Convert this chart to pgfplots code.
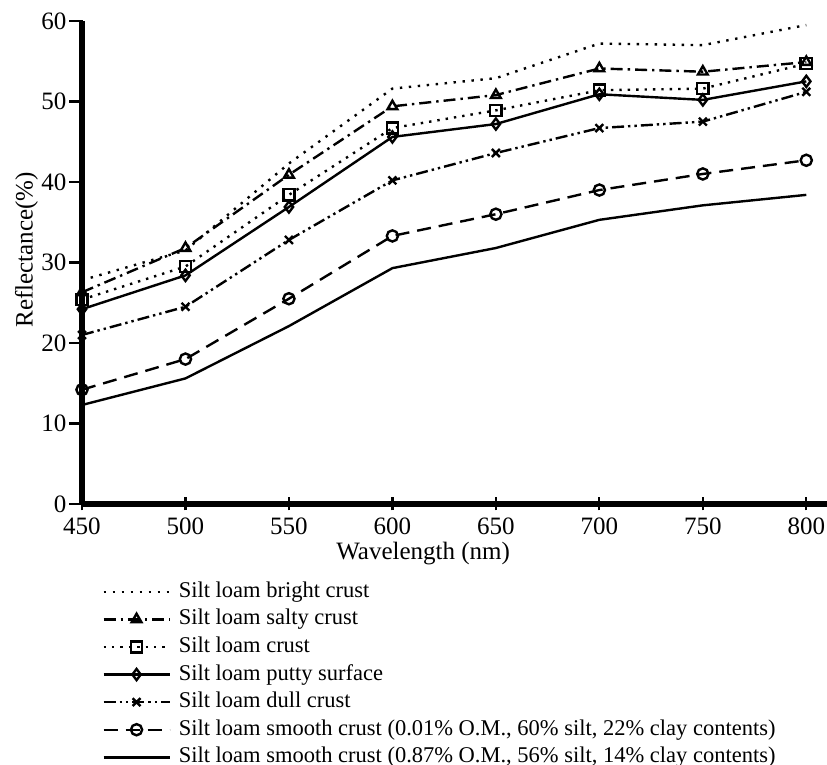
\documentclass[border=0pt]{standalone}
\usepackage{fontspec}
\setmainfont{Liberation Serif}
\usepackage{pgfplots}
\pgfplotsset{compat=1.18}
\begin{document}
\begin{tikzpicture}
\begin{axis}[
  scale only axis,
  width=372.5pt, height=241.5pt,
  xmin=450, xmax=810, ymin=0, ymax=60,
  xtick={450,500,...,800}, ytick={0,10,...,60},
  axis lines=left,
  axis line style={line width=2.6pt,-},
  tick align=center,
  major tick length=6.5pt,
  tick style={line width=1.1pt,black},
  ytick style={xshift=-3pt},
  /pgf/number format/assume math mode=true,
  tick label style={font=\fontsize{12.5}{15}\selectfont},
  xticklabel style={yshift=0pt},
  yticklabel style={xshift=-1pt},
  label style={font=\fontsize{12.5}{15}\selectfont},
  xlabel={Wavelength (nm)},
  ylabel={Reflectance(\%)},
  xlabel style={at={(axis description cs:0.458,-0.102)},anchor=center},
  ylabel style={at={(axis description cs:-0.0746,0.526)},anchor=center},
  clip=false,
  legend cell align=left,
  legend style={at={(axis description cs:0.0268,-0.157)},anchor=north west,
    draw=none, fill=none, inner sep=0pt, row sep=2.3pt, column sep=4pt,
    nodes={inner sep=0pt, text height=8.5pt, text depth=3pt},
    font=\fontsize{11.25}{13.5}\selectfont},
  legend image code/.code={\draw[mark repeat=2,mark phase=2] plot coordinates {(0pt,0pt) (16.5pt,0pt) (33pt,0pt)};},
  every axis plot/.append style={line width=1.2pt, black, mark size=2.8pt, mark options={solid, fill=white, line width=1.2pt}},
]
\addplot[dash pattern=on 1.2pt off 3.3pt] coordinates {(450,27.8) (500,31.5) (550,42.3) (600,51.6) (650,52.9) (700,57.2) (750,57.0) (800,59.5)};
\addlegendentry{Silt loam bright crust}
\addplot[dash pattern=on 6pt off 2.5pt on 1.2pt off 2.5pt, mark=triangle] coordinates {(450,26.3) (500,31.8) (550,40.9) (600,49.4) (650,50.8) (700,54.1) (750,53.7) (800,54.9)};
\addlegendentry{Silt loam salty crust}
\addplot[dash pattern=on 1.2pt off 3pt, mark=square] coordinates {(450,25.4) (500,29.5) (550,38.4) (600,46.7) (650,48.9) (700,51.4) (750,51.6) (800,54.7)};
\addlegendentry{Silt loam crust}
\addplot[solid, mark=diamond] coordinates {(450,24.2) (500,28.4) (550,36.9) (600,45.6) (650,47.2) (700,50.9) (750,50.2) (800,52.5)};
\addlegendentry{Silt loam putty surface}
\addplot[dash pattern=on 6pt off 2pt on 1.2pt off 2pt on 1.2pt off 2pt, mark=x] coordinates {(450,21.0) (500,24.5) (550,32.8) (600,40.2) (650,43.6) (700,46.7) (750,47.5) (800,51.2)};
\addlegendentry{Silt loam dull crust}
\addplot[dash pattern=on 7pt off 4pt, mark=o] coordinates {(450,14.2) (500,18.0) (550,25.5) (600,33.3) (650,36.0) (700,39.0) (750,41.0) (800,42.7)};
\addlegendentry{Silt loam smooth crust (0.01\% O.M., 60\% silt, 22\% clay contents)}
\addplot[solid] coordinates {(450,12.3) (500,15.6) (550,22.1) (600,29.3) (650,31.8) (700,35.3) (750,37.1) (800,38.4)};
\addlegendentry{Silt loam smooth crust (0.87\% O.M., 56\% silt, 14\% clay contents)}
\end{axis}
\pgfresetboundingbox
\path[use as bounding box] (-41pt,-130.5pt) rectangle (372.5pt,252pt);
\end{tikzpicture}
\end{document}
